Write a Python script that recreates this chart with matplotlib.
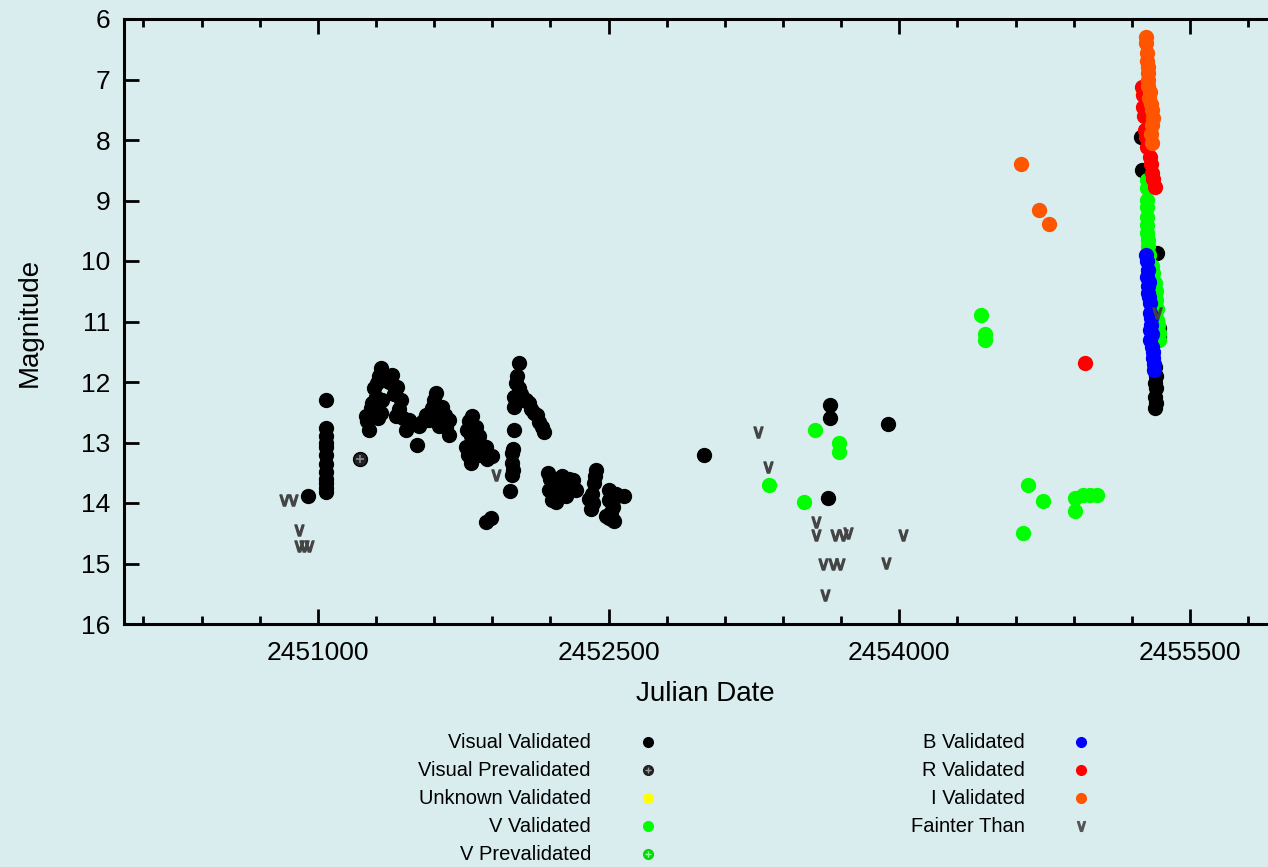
import numpy as np
import matplotlib
matplotlib.use("Agg")
from matplotlib import pyplot as plt
from matplotlib import font_manager

# ---- data (JD, magnitude) ----
vis_jd = [2450947, 2451040, 2451040, 2451040, 2451040, 2451040, 2451040, 2451040, 2451040,
          2451040, 2451040, 2451040, 2451040,
          2451324, 2451306, 2451298, 2451272, 2451246, 2451264, 2451324, 2451332,
          2451290, 2451315, 2451280, 2451255, 2451310,
          2451384, 2451410, 2451427, 2451401, 2451470, 2451453, 2451513, 2451522,
          2451350, 2451365, 2451395, 2451420, 2451440, 2451490, 2451540, 2451560,
          2451608, 2451591, 2451574, 2451642, 2451677, 2451677, 2451625,
          2451600, 2451615, 2451630, 2451655, 2451660, 2451585,
          2451797, 2451771, 2451832, 2451763, 2451789, 2451849, 2451901, 2451866, 2451875,
          2451780, 2451790, 2451810, 2451775, 2451800, 2451830, 2451850, 2451815,
          2451892, 2451866,
          2452039, 2452021, 2452013, 2452013, 2452013, 2452073, 2452116, 2452142, 2452168,
          2452030, 2452040, 2452050, 2452090, 2452100, 2452130, 2452155, 2452060,
          2452004, 2452004, 2452004, 2451991, 2452008, 2452008,
          2452185, 2452194, 2452228, 2452262, 2452314, 2452332, 2452280, 2452245,
          2452200, 2452215, 2452240, 2452255, 2452270, 2452295, 2452300, 2452210, 2452230,
          2452435, 2452426, 2452400, 2452409, 2452504, 2452521, 2452521, 2452581, 2452487,
          2452430, 2452415, 2452420, 2452500, 2452515, 2452530, 2452500, 2452540, 2452525,
          2452994, 2453640, 2453640, 2453942, 2453632,
          2455247, 2455251, 2455320, 2455320, 2455320, 2455320, 2455342, 2455331,
          2455322, 2455322, 2455322, 2455340]
vis_mag = [13.89, 12.30, 12.76, 12.90, 13.07, 13.21, 13.48, 13.67, 13.81,
           13.00, 13.35, 13.60, 13.75,
           11.77, 12.02, 12.24, 12.43, 12.57, 12.79, 12.52, 12.30,
           12.10, 11.90, 12.35, 12.65, 12.60,
           11.88, 12.08, 12.30, 12.57, 12.63, 12.79, 13.04, 12.72,
           11.95, 12.00, 12.20, 12.45, 12.60, 12.70, 12.65, 12.55,
           12.19, 12.43, 12.63, 12.41, 12.63, 12.88, 12.72,
           12.30, 12.55, 12.45, 12.55, 12.75, 12.60,
           12.57, 12.79, 12.90, 13.07, 13.34, 13.18, 13.23, 13.07, 13.27,
           12.65, 12.90, 13.00, 13.20, 13.15, 13.20, 13.05, 12.75,
           14.25, 14.32,
           11.69, 12.02, 12.24, 12.41, 12.79, 12.30, 12.52, 12.66, 12.82,
           11.90, 12.10, 12.20, 12.35, 12.45, 12.55, 12.75, 12.30,
           13.18, 13.34, 13.54, 13.80, 13.10, 13.45,
           13.51, 13.78, 13.98, 13.56, 13.62, 13.78, 13.89, 13.67,
           13.60, 13.85, 13.75, 13.85, 13.70, 13.60, 13.75, 13.95, 13.65,
           13.46, 13.67, 13.93, 14.10, 13.78, 14.06, 14.28, 13.89, 14.22,
           13.55, 13.85, 14.00, 13.95, 14.15, 14.30, 14.25, 13.85, 13.95,
           13.21, 12.38, 12.60, 12.69, 13.91,
           7.95, 8.50, 11.75, 12.02, 12.24, 12.43, 11.25, 9.87,
           11.90, 12.10, 12.35, 11.10]

visprev_jd = [2451215]
visprev_mag = [13.27]

unk_jd = [2455228]
unk_mag = [7.24]

v_jd = [2453563, 2453688, 2453688, 2453330, 2453506, 2454421, 2454441, 2454441,
        2454665, 2454739, 2454636, 2454906, 2454906, 2454984, 2455018, 2454945,
        2455277, 2455277, 2455277, 2455277, 2455283, 2455303, 2455320, 2455325,
        2455331, 2455339,
        2455277, 2455278, 2455280, 2455284, 2455290, 2455310, 2455322, 2455328,
        2455333, 2455340]
v_mag = [12.79, 13.01, 13.15, 13.70, 13.99, 10.89, 11.21, 11.30,
         13.70, 13.97, 14.50, 13.92, 14.14, 13.87, 13.87, 13.87,
         8.66, 8.99, 9.27, 9.54, 9.76, 10.09, 10.37, 10.64,
         10.97, 11.19,
         8.80, 9.10, 9.40, 9.65, 9.90, 10.20, 10.50, 10.80,
         11.05, 11.30]

vprev_jd = []
vprev_mag = []

b_jd = [2455273, 2455277, 2455283, 2455294, 2455294, 2455303, 2455314, 2455285, 2455294,
        2455280, 2455282, 2455286, 2455290, 2455292, 2455296, 2455300, 2455304,
        2455308, 2455311, 2455313]
b_mag = [9.90, 10.26, 10.53, 10.86, 11.14, 11.42, 11.80, 10.42, 11.31,
         10.00, 10.15, 10.35, 10.60, 10.70, 10.95, 11.05, 11.20,
         11.50, 11.60, 11.70]

r_jd = [2454958, 2455251, 2455259, 2455268, 2455294, 2455303, 2455320, 2455277,
        2455255, 2455262, 2455272, 2455298, 2455310]
r_mag = [11.69, 7.12, 7.45, 7.83, 8.28, 8.55, 8.77, 8.11,
         7.25, 7.60, 7.95, 8.40, 8.65]

i_jd = [2454627, 2454720, 2454772, 2455272, 2455277, 2455283, 2455283, 2455294,
        2455303, 2455303, 2455303, 2455311,
        2455275, 2455280, 2455282, 2455285, 2455290, 2455300, 2455298]
i_mag = [8.40, 9.16, 9.39, 6.29, 6.57, 6.79, 7.01, 7.20,
         7.50, 8.05, 7.75, 7.64,
         6.40, 6.70, 6.90, 7.10, 7.30, 7.40, 7.90]

faint_jd = [2450827, 2450874, 2450902, 2450902, 2450928, 2450954, 2451918,
            2453270, 2453322, 2453568, 2453568, 2453666, 2453709, 2453735, 2454019,
            2453606, 2453657, 2453692, 2453930, 2453614, 2455328]
faint_mag = [13.95, 13.95, 14.45, 14.71, 14.71, 14.71, 13.54,
             12.82, 13.40, 14.31, 14.53, 14.53, 14.53, 14.49, 14.53,
             15.0, 15.0, 15.0, 14.99, 15.52, 10.86]

legend_left = ["Visual Validated", "Visual Prevalidated", "Unknown Validated",
               "V Validated", "V Prevalidated"]
legend_right = ["B Validated", "R Validated", "I Validated", "Fainter Than"]

bg = "#d9edef"

names = {f.name for f in font_manager.fontManager.ttflist}
if "Liberation Sans Narrow" in names:
    leg_family, leg_size = ["Liberation Sans Narrow", "DejaVu Sans"], 17.5
else:
    leg_family, leg_size = ["Liberation Sans", "DejaVu Sans"], 14.5
plt.rcParams["font.family"] = ["Liberation Sans", "DejaVu Sans"]

fig = plt.figure(figsize=(12.68, 8.67), dpi=100, facecolor=bg)
ax = fig.add_axes([124/1268, 1 - 624/867, (1287 - 124)/1268, (624 - 19)/867])
ax.set_facecolor(bg)

ms = 10
ax.plot(vis_jd, vis_mag, "o", ms=ms, color="black", mec="black", ls="none")
ax.plot(visprev_jd, visprev_mag, "o", ms=ms, color="#222222", mec="black", ls="none")
ax.plot(visprev_jd, visprev_mag, "+", ms=6, color="#888888", mew=1.2, ls="none")
ax.plot(unk_jd, unk_mag, "o", ms=3, color="#ffff00", ls="none")
ax.plot(v_jd, v_mag, "o", ms=ms, color="#00ff00", mec="#00ff00", ls="none")
ax.plot(b_jd, b_mag, "o", ms=ms, color="#0000ff", mec="#0000ff", ls="none")
ax.plot(r_jd, r_mag, "o", ms=ms, color="#ff0000", mec="#ff0000", ls="none")
ax.plot(i_jd, i_mag, "o", ms=ms, color="#ff5500", mec="#ff5500", ls="none")
ax.plot(faint_jd, faint_mag, ls="none", marker=r"$\vee$", ms=8, color="#444444")

ax.set_xlim(2450000, 2456000)
ax.set_ylim(16, 6)
ax.set_xticks([2451000, 2452500, 2454000, 2455500])
ax.set_xticks(np.arange(2450100, 2456000, 300), minor=True)
ax.set_yticks(np.arange(6, 17, 1))
ax.xaxis.set_major_formatter(matplotlib.ticker.FormatStrFormatter("%d"))

for s in ["left", "bottom", "top"]:
    ax.spines[s].set_linewidth(2.2)
ax.spines["right"].set_visible(False)
ax.tick_params(which="major", direction="in", length=11, width=2, top=True, right=False,
               labelsize=19)
ax.tick_params(which="minor", direction="in", length=6, width=2, top=True, right=False)
ax.tick_params(axis="x", which="major", pad=12)
ax.tick_params(axis="y", which="major", pad=10)

ax.set_xlabel("Julian Date", fontsize=20, labelpad=12)
fig.text(30/1268, 1 - 322/867, "Magnitude", rotation=90, fontsize=20,
         ha="center", va="center")

# hand-built legend under the plot
lax = fig.add_axes([0, 0, 1, 1], facecolor="none")
lax.set_xlim(0, 1268)
lax.set_ylim(867, 0)
lax.axis("off")
rows = [742, 770, 798, 826, 854]
lstyles_left = [dict(color="black"), dict(color="#222222"), dict(color="#ffff00"),
                dict(color="#00ff00"), dict(color="#00dd00")]
for lab, y, st in zip(legend_left, rows, lstyles_left):
    lax.text(591, y, lab, ha="right", va="center", fontsize=leg_size, family=leg_family)
    lax.plot([648], [y], "o", ms=7, ls="none", **st)
lax.plot([648], [rows[1]], "+", ms=4, color="#999999", mew=1)
lax.plot([648], [rows[4]], "+", ms=4, color="#99ff99", mew=1)
lstyles_right = ["#0000ff", "#ff0000", "#ff5500"]
for lab, y, c in zip(legend_right[:3], rows, lstyles_right):
    lax.text(1025, y, lab, ha="right", va="center", fontsize=leg_size, family=leg_family)
    lax.plot([1081], [y], "o", ms=7, color=c, ls="none")
lax.text(1025, rows[3], legend_right[3], ha="right", va="center", fontsize=leg_size,
         family=leg_family)
lax.plot([1081], [rows[3]], ls="none", marker=r"$\vee$", ms=7, color="#555555")

fig.savefig("out.png", dpi=100, facecolor=bg)
